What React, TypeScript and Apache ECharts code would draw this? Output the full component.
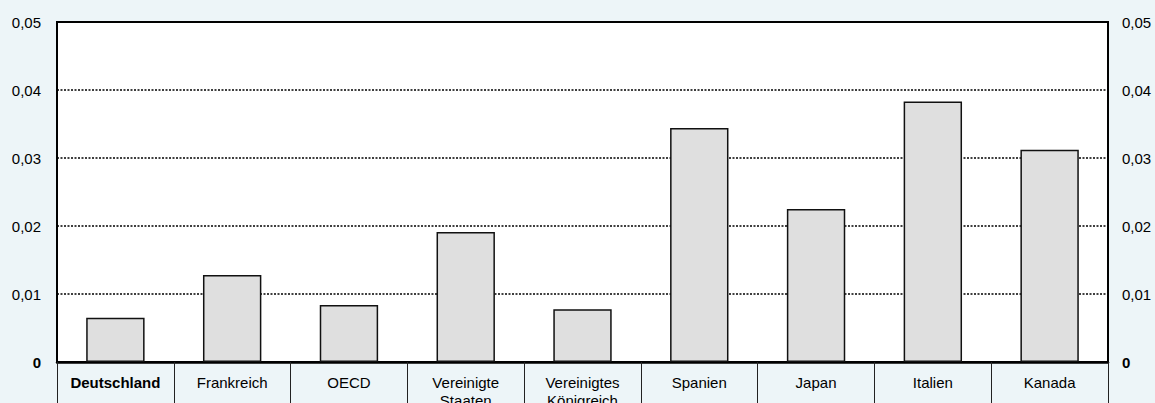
import React, { useEffect, useRef } from "react";
import * as echarts from "echarts";

const categories = [
  "Deutschland",
  "Frankreich",
  "OECD",
  "Vereinigte\nStaaten",
  "Vereinigtes\nKönigreich",
  "Spanien",
  "Japan",
  "Italien",
  "Kanada",
];
const values = [0.0065, 0.0128, 0.0084, 0.0191, 0.00775, 0.0344, 0.0225, 0.0383, 0.0312];
const yMin = 0;
const yMax = 0.05;
const yStep = 0.01;

const fmt = (v: number) => (v === 0 ? "{b|0}" : v.toFixed(2).replace(".", ","));

export default function App() {
  const ref = useRef<HTMLDivElement>(null);
  useEffect(() => {
    document.body.style.margin = "0";
    document.body.style.background = "#EDF5F8";
    const chart = echarts.init(ref.current!, null, { renderer: "svg" });
    const labelStyle = {
      color: "#000",
      fontFamily: "Liberation Sans, Arial, sans-serif",
      fontSize: 15,
      formatter: fmt,
      rich: { b: { fontWeight: "bold", fontSize: 15, fontFamily: "Liberation Sans, Arial, sans-serif", color: "#000" } },
    };
    chart.setOption({
      animation: false,
      backgroundColor: "#EDF5F8",
      grid: {
        left: 57,
        right: 47,
        top: 22,
        bottom: 41,
        containLabel: false,
        outerBoundsMode: "none",
        show: true,
        backgroundColor: "#fff",
        borderColor: "#000",
        borderWidth: 2,
      },
      xAxis: {
        type: "category",
        data: categories.map((c, i) =>
          i === 0 ? { value: c, textStyle: { fontWeight: "bold" } } : c
        ),
        axisLine: { lineStyle: { color: "#000", width: 2.5 } },
        axisTick: { show: true, length: 45, lineStyle: { color: "#222", width: 1 } },
        axisLabel: {
          color: "#000",
          fontFamily: "Liberation Sans, Arial, sans-serif",
          fontSize: 15,
          margin: 11,
          lineHeight: 18,
          interval: 0,
        },
      },
      yAxis: [
        {
          type: "value",
          min: yMin,
          max: yMax,
          interval: yStep,
          position: "left",
          axisLine: { show: true, lineStyle: { color: "#000", width: 2 } },
          axisTick: { show: false },
          axisLabel: { ...labelStyle, margin: 16 },
          splitLine: { show: true, lineStyle: { color: "#000", width: 1.5, type: [2, 1.5] } },
        },
        {
          type: "value",
          min: yMin,
          max: yMax,
          interval: yStep,
          position: "right",
          axisLine: { show: true, lineStyle: { color: "#000", width: 2 } },
          axisTick: { show: false },
          axisLabel: { ...labelStyle, margin: 14 },
          splitLine: { show: false },
        },
      ],
      series: [
        {
          type: "bar",
          data: values,
          barWidth: "50%",
          itemStyle: { color: "#DFDFDF", borderColor: "#111", borderWidth: 1.5 },
        },
      ],
    });
    return () => chart.dispose();
  }, []);
  return <div ref={ref} style={{ width: 1155, height: 403 }} />;
}
